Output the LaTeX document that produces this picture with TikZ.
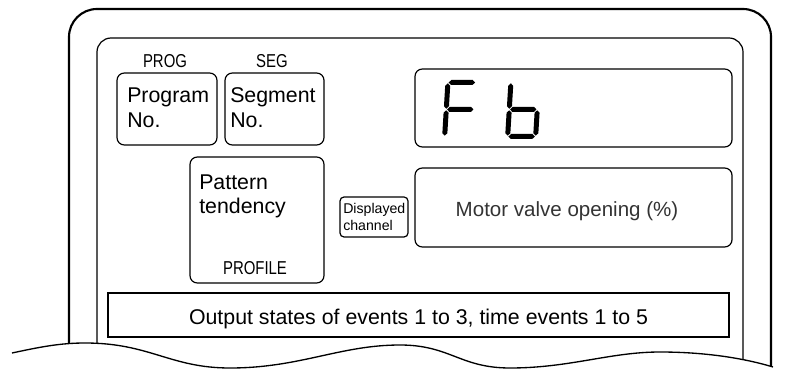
\documentclass[tikz,border=0pt]{standalone}
\usepackage{fontspec}
\setmainfont{Liberation Sans}
\newfontfamily\narrowfont[FakeStretch=0.8]{Liberation Sans}
\newcommand\segH[3]{\fill (#1,#3) -- (#1+2.5,#3+2.5) -- (#2-2.5,#3+2.5) -- (#2,#3) -- (#2-2.5,#3-2.5) -- (#1+2.5,#3-2.5) -- cycle;}
\newcommand\segV[3]{\fill (#1,#2) -- (#1+2.5,#2-2.5) -- (#1+2.5,#3+2.5) -- (#1,#3) -- (#1-2.5,#3+2.5) -- (#1-2.5,#2-2.5) -- cycle;}
\tikzset{
  frameouter/.style={line width=1.6pt},
  frameinner/.style={line width=0.9pt},
  panelbox/.style={line width=0.9pt, rounded corners=5.5pt},
  bigtxt/.style={font=\fontsize{16}{19}\selectfont, inner sep=0pt},
  smalltxt/.style={font=\fontsize{10.6}{12.5}\selectfont, inner sep=0pt},
  lbltxt/.style={font=\narrowfont\fontsize{14}{16}\selectfont, inner sep=0pt},
}
\begin{document}
\begin{tikzpicture}[x=0.75pt,y=-0.75pt]
\useasboundingbox (0,0) rectangle (788,370);
% outer and inner frame
\draw[frameouter] (69,343) -- (69,37) arc[start angle=180,end angle=270,radius=28] -- (743,9) arc[start angle=270,end angle=360,radius=28] -- (771,366);
\draw[frameinner] (97,343) -- (97,52) arc[start angle=180,end angle=270,radius=14] -- (729,38) arc[start angle=270,end angle=360,radius=14] -- (743,359);
% wavy cut
\draw[line width=1pt] (12,353) .. controls (40,347) and (60,343) .. (85,343)
  .. controls (150,343) and (170,368) .. (230,368)
  .. controls (300,368) and (340,345) .. (400,345)
  .. controls (450,345) and (460,368) .. (510,368)
  .. controls (570,368) and (610,352) .. (660,352)
  .. controls (700,352) and (740,357) .. (773,367);
% labels above
\node[lbltxt, anchor=base] (proglbl) at (165,68) {PROG};
\node[lbltxt, anchor=base] (seglbl) at (272,68) {SEG};
% program / segment boxes
\draw[panelbox] (117,73) rectangle (217,145);
\node[bigtxt, anchor=base west] (prog1) at (127,103) {Program};
\node[bigtxt, anchor=base west] (prog2) at (127,128) {No.};
\draw[panelbox] (225,73) rectangle (324,145);
\node[bigtxt, anchor=base west] (seg1) at (230,103) {Segment};
\node[bigtxt, anchor=base west] (seg2) at (230,128) {No.};
% pattern box
\draw[panelbox] (190,157) rectangle (324,283);
\node[bigtxt, anchor=base west] (pat1) at (199,190) {Pattern};
\node[bigtxt, anchor=base west] (pat2) at (199,214) {tendency};
\node[lbltxt, anchor=base] (profile) at (255,274) {PROFILE};
% displayed channel
\draw[line width=0.9pt, rounded corners=3pt] (340,197) rectangle (408,237);
\node[smalltxt, anchor=base west] (disp1) at (343,214) {Displayed};
\node[smalltxt, anchor=base west] (disp2) at (343,231) {channel};
% Fb display
\draw[panelbox] (415,69) rectangle (732,147);
\begin{scope}[shift={(442,139)}, x=0.75pt, y=0.75pt, xslant=0.06]
  \segH{3.3}{29.7}{56.5}
  \segV{2.5}{55.7}{30.3}
  \segV{2.5}{28.7}{3.3}
  \segH{3.3}{29.7}{29.5}
\end{scope}
\begin{scope}[shift={(505,139)}, x=0.75pt, y=0.75pt, xslant=0.06]
  \segV{2.5}{55.7}{30.3}
  \segV{2.5}{28.7}{3.3}
  \segH{3.3}{29.7}{29.5}
  \segV{30.5}{28.7}{3.3}
  \segH{3.3}{29.7}{2.5}
\end{scope}
% motor valve box
\draw[panelbox] (415,168) rectangle (732,247);
\node[anchor=base, inner sep=0pt, font=\fontsize{15.4}{18}\selectfont, text=black!80] (motor) at (567,217) {Motor valve opening (\%)};
% output box
\draw[line width=0.9pt] (108,293) rectangle (729,337);
\node[bigtxt, anchor=base] (output) at (418.5,324) {Output states of events 1 to 3, time events 1 to 5};
\end{tikzpicture}
\end{document}
